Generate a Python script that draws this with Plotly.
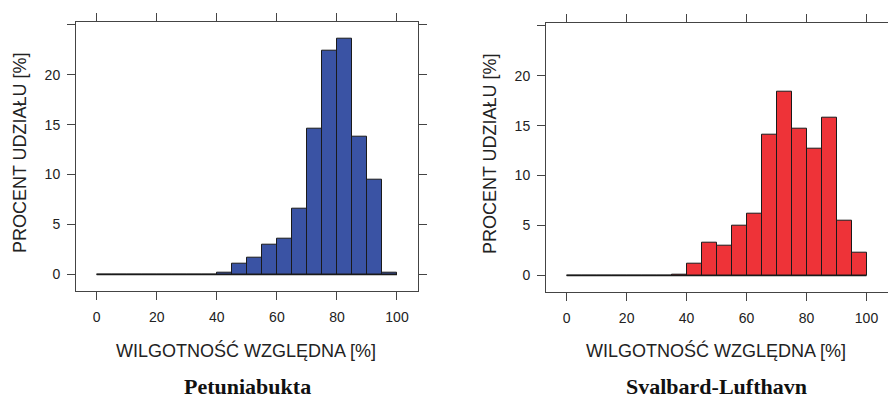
import plotly.graph_objects as go

# ---- data ----
bin_edges = [0, 5, 10, 15, 20, 25, 30, 35, 40, 45, 50, 55, 60, 65, 70, 75, 80, 85, 90, 95, 100]
bin_centers = [(a + b) / 2 for a, b in zip(bin_edges[:-1], bin_edges[1:])]

petuniabukta_pct = [0, 0, 0, 0, 0, 0, 0, 0, 0.15, 1.13, 1.66, 3.0, 3.6, 6.6,
                    14.55, 22.35, 23.6, 13.75, 9.45, 0.23]
svalbard_pct = [0, 0, 0, 0, 0, 0, 0, 0.12, 1.17, 3.27, 3.0, 4.97, 6.17, 14.1,
                18.37, 14.7, 12.7, 15.83, 5.47, 2.33]

x_tick_vals = [0, 20, 40, 60, 80, 100]
x_tick_labels = ["0", "20", "40", "60", "80", "100"]
y_tick_vals = [0, 5, 10, 15, 20, 25]
y_tick_labels = ["0", "5", "10", "15", "20", ""]

station_names = ["Petuniabukta", "Svalbard-Lufthavn"]
x_title = "WILGOTNOŚĆ WZGLĘDNA [%]"
y_title = "PROCENT UDZIAŁU [%]"

# ---- style ----
W, H = 888, 401
BLUE = "#3a53a4"
RED = "#ee3338"
FRAME = "#444444"
TXT = "#222222"
SANS = "Liberation Sans, Arial, sans-serif"
SERIF = "Liberation Serif, Times New Roman, serif"

def px_x(p):
    return p / W

def px_y(p):
    return 1 - p / H

fig = go.Figure()

series = [(petuniabukta_pct, BLUE, "x", "y"), (svalbard_pct, RED, "x2", "y2")]
for vals, col, xa, ya in series:
    fig.add_trace(go.Bar(
        x=bin_centers, y=vals, width=5,
        marker=dict(color=col, line=dict(color="#1a1a1a", width=1)),
        xaxis=xa, yaxis=ya, showlegend=False, hoverinfo="x+y",
    ))
    fig.add_trace(go.Scatter(
        x=[bin_edges[0], bin_edges[-1]], y=[0, 0], mode="lines",
        line=dict(color="#1a1a1a", width=1.3),
        xaxis=xa, yaxis=ya, showlegend=False, hoverinfo="skip",
    ))

panels = [
    dict(x0=76, x1=418, y0=21.7, y1=290.5),
    dict(x0=546, x1=887.5, y0=22.7, y1=291.5),
]

common_x = dict(
    range=[-6.9, 107.0], tickvals=x_tick_vals, ticktext=x_tick_labels,
    ticks="outside", ticklen=8, tickwidth=1, tickcolor=FRAME,
    showline=True, linecolor=FRAME, linewidth=1, mirror="ticks",
    showgrid=False, zeroline=False,
    tickfont=dict(family=SANS, size=14, color=TXT), ticklabelstandoff=6,
)
common_y = dict(
    range=[-1.6, 25.3], tickvals=y_tick_vals, ticktext=y_tick_labels,
    ticks="outside", ticklen=8, tickwidth=1, tickcolor=FRAME,
    showline=True, linecolor=FRAME, linewidth=1,
    showgrid=False, zeroline=False,
    tickfont=dict(family=SANS, size=14, color=TXT), ticklabelstandoff=4,
)

fig.update_layout(
    xaxis=dict(domain=[px_x(panels[0]["x0"]), px_x(panels[0]["x1"])], anchor="y", **common_x),
    yaxis=dict(domain=[px_y(panels[0]["y1"]), px_y(panels[0]["y0"])], anchor="x",
               mirror="ticks", **common_y),
    xaxis2=dict(domain=[px_x(panels[1]["x0"]), px_x(panels[1]["x1"])], anchor="y2", **common_x),
    # right-hand ticks of the second panel fall outside the picture edge, so only the frame line
    yaxis2=dict(domain=[px_y(panels[1]["y1"]), px_y(panels[1]["y0"])], anchor="x2",
                mirror=True, **common_y),
)

annotations = []
for i, p in enumerate(panels):
    cx = (p["x0"] + p["x1"]) / 2
    cy = (p["y0"] + p["y1"]) / 2
    annotations.append(dict(
        text=x_title, xref="paper", yref="paper", x=px_x(cx - 1), y=px_y(350),
        xanchor="center", yanchor="middle", showarrow=False,
        font=dict(family=SANS, size=18, color=TXT),
    ))
    annotations.append(dict(
        text=y_title, xref="paper", yref="paper", x=px_x(p["x0"] - 56), y=px_y(cy - 3),
        xanchor="center", yanchor="middle", showarrow=False, textangle=-90,
        font=dict(family=SANS, size=18, color=TXT),
    ))
    annotations.append(dict(
        text="<b>" + station_names[i] + "</b>", xref="paper", yref="paper",
        x=px_x(cx), y=px_y(386), xanchor="center", yanchor="middle", showarrow=False,
        font=dict(family=SERIF, size=22, color="#111111"),
    ))

fig.update_layout(
    width=W, height=H,
    margin=dict(l=0, r=0, t=0, b=0),
    paper_bgcolor="white", plot_bgcolor="white",
    annotations=annotations,
    bargap=0,
)

fig.write_html(
    "out.html",
    config={"displayModeBar": False},
    post_script=(
        "document.documentElement.style.margin='0';"
        "document.documentElement.style.overflow='hidden';"
        "document.body.style.margin='0';"
        "document.body.style.overflow='hidden';"
    ),
)
